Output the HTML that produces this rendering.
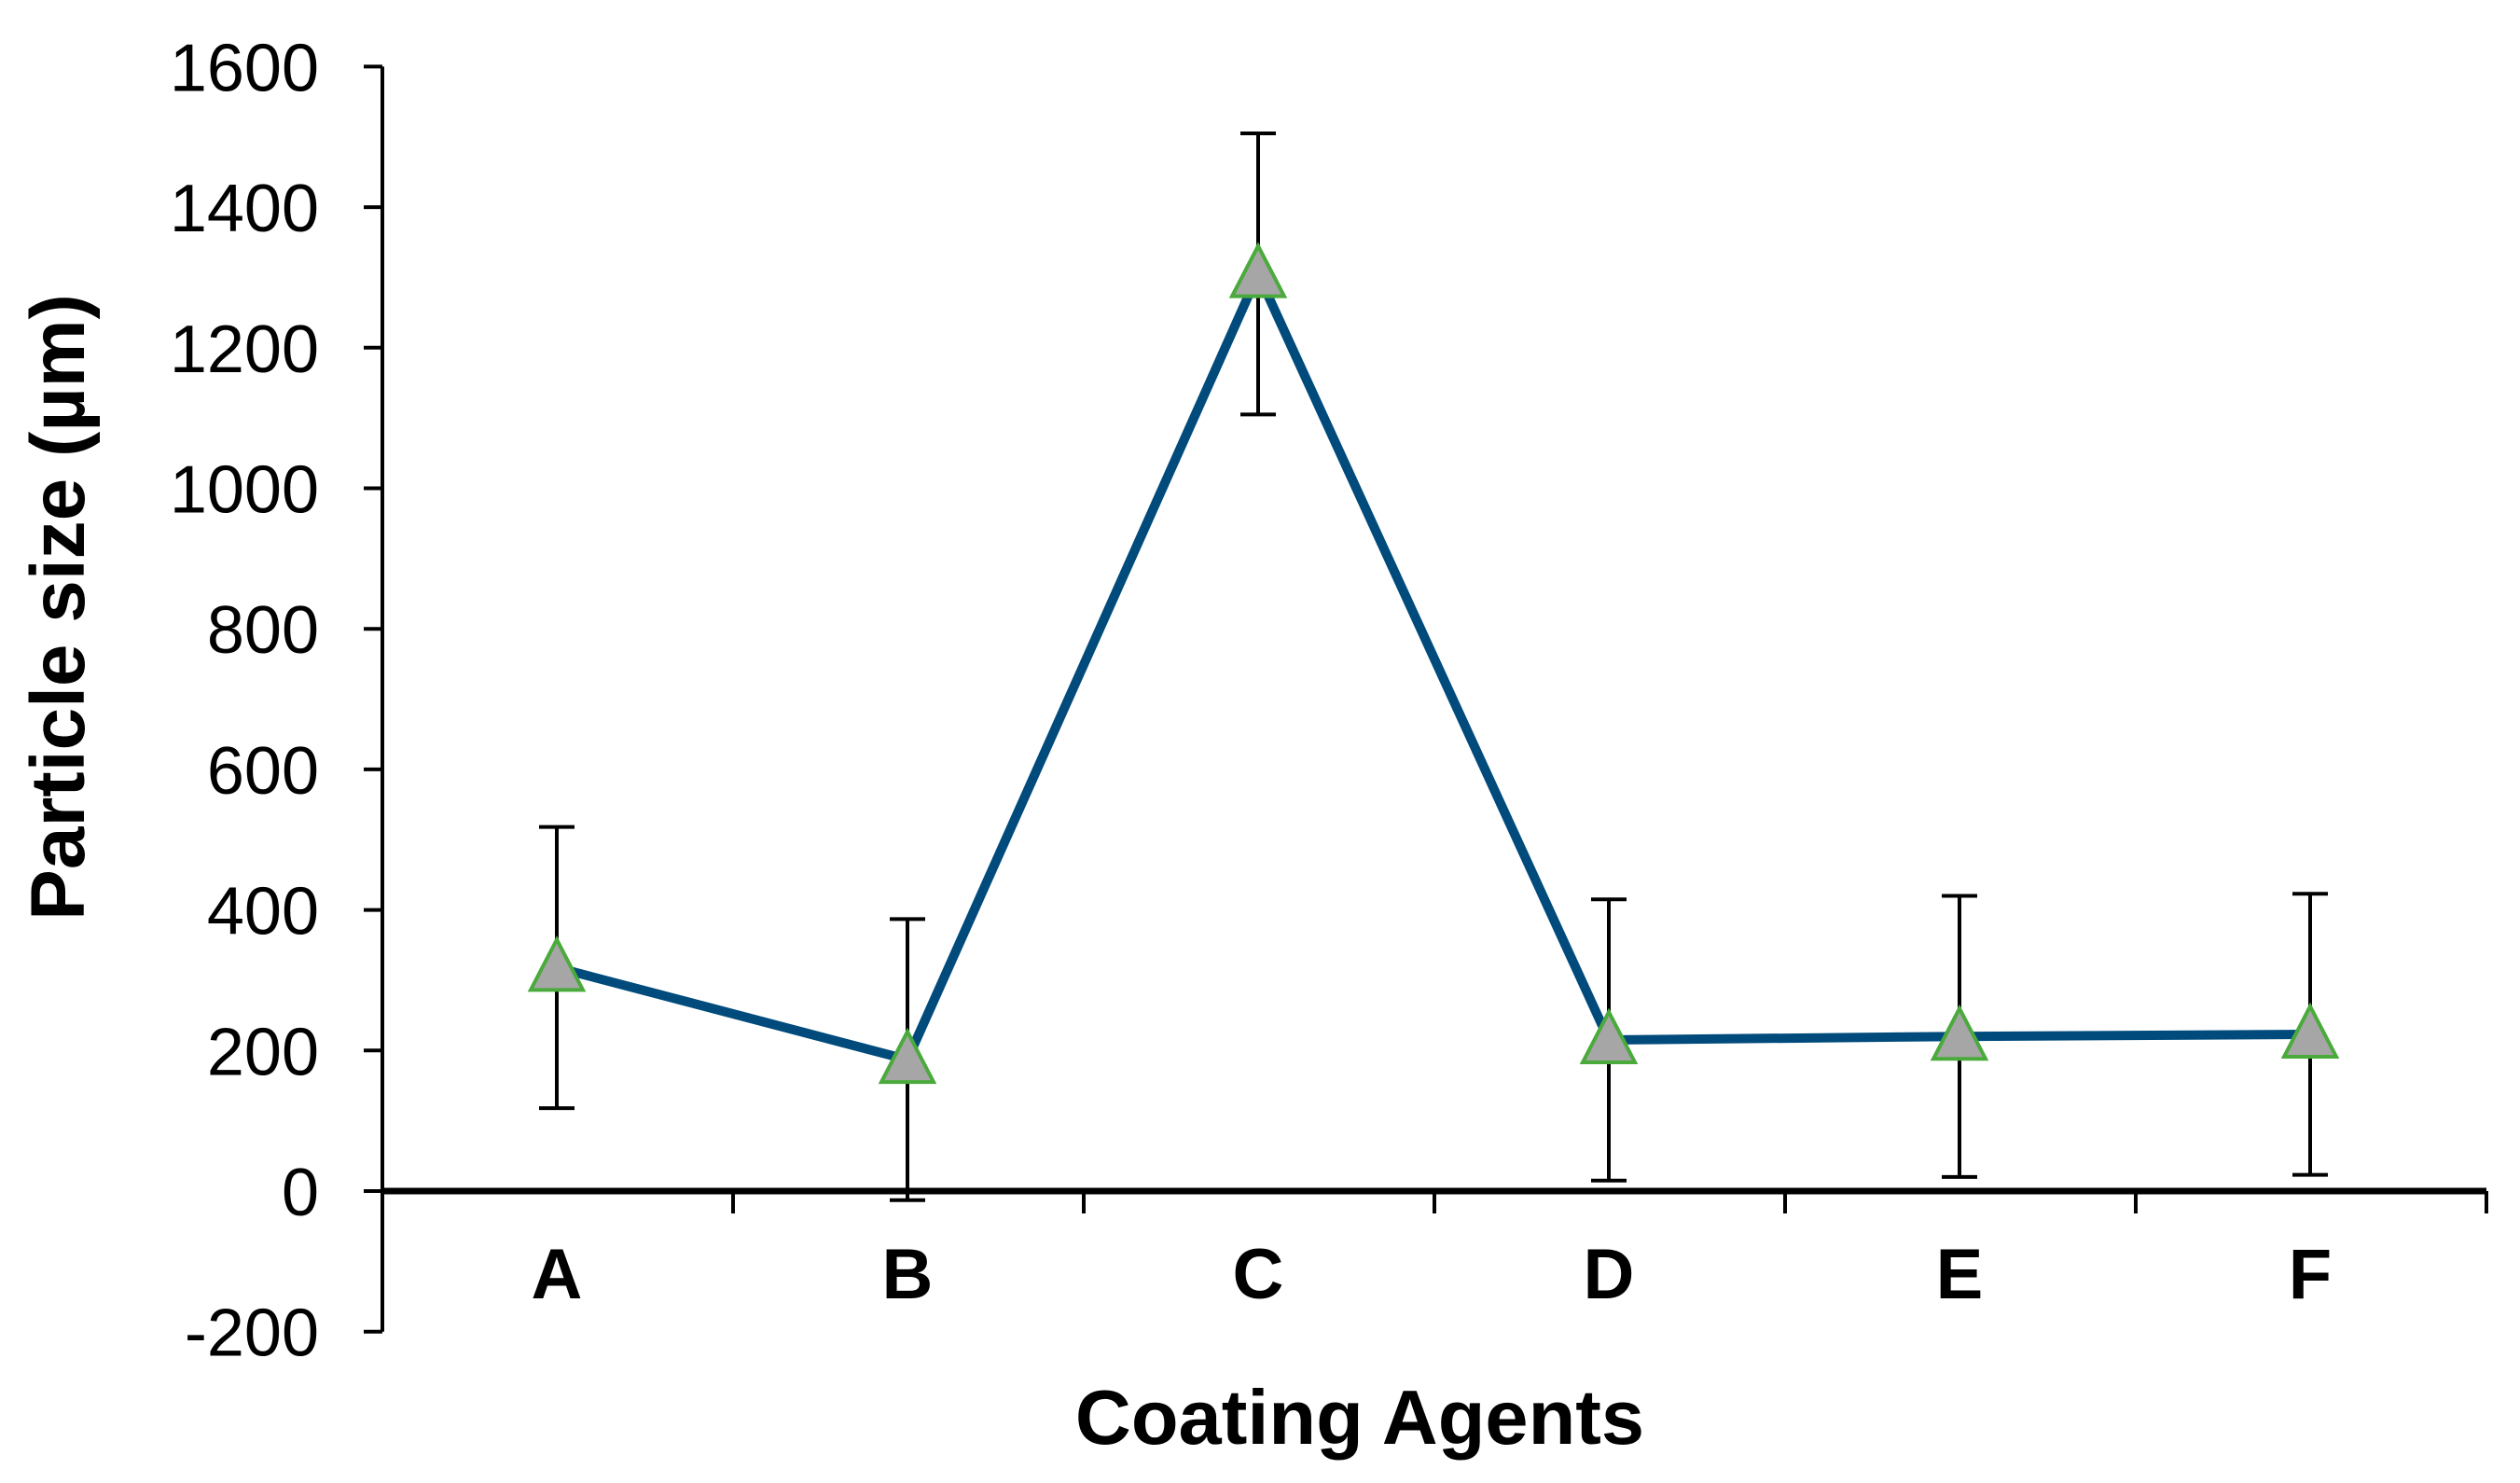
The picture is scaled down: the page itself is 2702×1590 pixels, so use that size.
<!DOCTYPE html>
<html><head><meta charset="utf-8"><style>
html,body{margin:0;padding:0;background:#fff;}
svg{display:block;font-family:"Liberation Sans",Arial,sans-serif;}
</style></head><body>
<svg id="chart" width="2702" height="1590" viewBox="0 0 2702 1590" xmlns="http://www.w3.org/2000/svg">
<text transform="translate(90,651) rotate(-90)" text-anchor="middle" font-size="82" font-weight="bold">Particle size (µm)</text>
<text x="1458" y="1548" text-anchor="middle" font-size="83" font-weight="bold">Coating Agents</text>
</svg>
<script>
const categories = ["A","B","C","D","E","F"];
const values = [318, 187, 1305, 215, 220, 223];
const errors = [200, 200, 200, 200, 200, 200];
const yTicks = [-200, 0, 200, 400, 600, 800, 1000, 1200, 1400, 1600];

const NS = "http://www.w3.org/2000/svg";
const svg = document.getElementById('chart');
const axL = 410, bandW = 376, axR = axL + bandW * categories.length;
const y0 = 1277, pxPer = 150.7 / 200;
const yMin = -200, yMax = 1600;
function yS(v){ return y0 - v * pxPer; }
function xS(i){ return axL + bandW * (i + 0.5) - 1; }
function mk(tag, attrs, parent){
  const e = document.createElementNS(NS, tag);
  for (const k in attrs) e.setAttribute(k, attrs[k]);
  (parent || svg).appendChild(e);
  return e;
}
let e = mk('line', {x1:axL, y1:yS(yMax), x2:axL, y2:yS(yMin), stroke:'#000', 'stroke-width':4});


yTicks.forEach(t => {
  const tk = mk('line', {x1:axL-20, y1:yS(t), x2:axL, y2:yS(t), stroke:'#000', 'stroke-width':4});
  
  
  const lb = mk('text', {x:342, y:yS(t)+26, 'text-anchor':'end', 'font-size':72});
  lb.textContent = t;
  
  
});
e = mk('line', {x1:axL, y1:yS(0), x2:axR, y2:yS(0), stroke:'#000', 'stroke-width':7});


for (let i = 0; i <= categories.length; i++) {
  const tk = mk('line', {x1:axL+bandW*i, y1:yS(0), x2:axL+bandW*i, y2:yS(0)+24, stroke:'#000', 'stroke-width':4});
  
  
}
categories.forEach((c, i) => {
  const lb = mk('text', {x:xS(i), y:1392, 'text-anchor':'middle', 'font-size':76, 'font-weight':'bold'});
  lb.textContent = c;
  
  
});
values.forEach((v, i) => {
  const g = mk('g', {stroke:'#000', 'stroke-width':4});
  
  
  const x = xS(i), yt = yS(v + errors[i]), yb = yS(v - errors[i]);
  mk('line', {x1:x, y1:yt, x2:x, y2:yb}, g);
  mk('line', {x1:x-19, y1:yt, x2:x+19, y2:yt}, g);
  mk('line', {x1:x-19, y1:yb, x2:x+19, y2:yb}, g);
});
const pts = values.map((v, i) => xS(i) + ',' + yS(v)).join(' ');
e = mk('polyline', {points:pts, fill:'none', stroke:'#004b7c', 'stroke-width':10, 'stroke-linejoin':'miter'});


values.forEach((v, i) => {
  const x = xS(i), y = yS(v) + 4;
  const p = mk('polygon', {points:`${x},${y-34} ${x-28},${y+20} ${x+28},${y+20}`, fill:'#a6a6a6', stroke:'#4aaa3c', 'stroke-width':4});
  
  
});
</script>
</body></html>
